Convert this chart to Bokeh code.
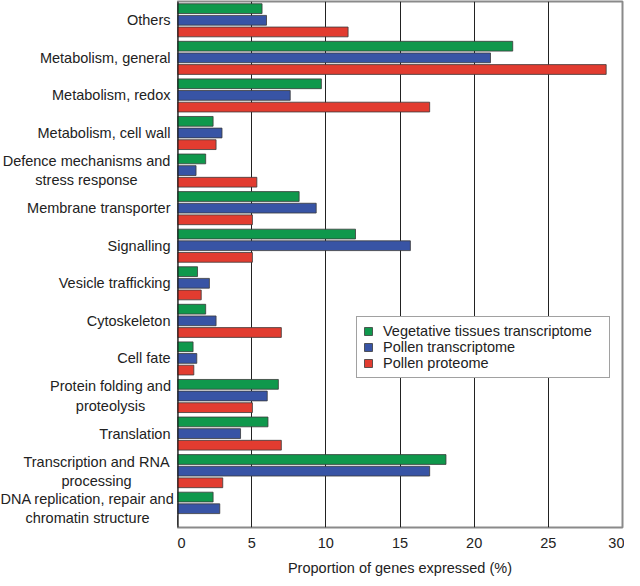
from bokeh.plotting import figure
from bokeh.layouts import row
from bokeh.models import FactorRange, Legend, LegendItem, FixedTicker, ColumnDataSource, Span
from bokeh.core.properties import value
from bokeh.transform import dodge
from bokeh.embed import file_html
from bokeh.resources import INLINE

categories = [
    "Others",
    "Metabolism, general",
    "Metabolism, redox",
    "Metabolism, cell wall",
    "Defence mechanisms and\nstress response",
    "Membrane transporter",
    "Signalling",
    "Vesicle trafficking",
    "Cytoskeleton",
    "Cell fate",
    "Protein folding and\nproteolysis",
    "Translation",
    "Transcription and RNA\nprocessing",
    "DNA replication, repair and\nchromatin structure",
]
vegetative = [5.7, 22.6, 9.7, 2.4, 1.9, 8.2, 12.0, 1.35, 1.9, 1.05, 6.8, 6.1, 18.1, 2.4]
pollen_tx = [6.0, 21.1, 7.6, 3.0, 1.25, 9.35, 15.7, 2.15, 2.6, 1.3, 6.05, 4.25, 17.0, 2.85]
pollen_pr = [11.5, 28.9, 17.0, 2.6, 5.35, 5.05, 5.05, 1.6, 7.0, 1.1, 5.05, 7.0, 3.05, 0.0]
series_names = ["Vegetative tissues transcriptome", "Pollen transcriptome", "Pollen proteome"]
colors = ["#0f984c", "#3854a5", "#e23c30"]
x_ticks = [0, 5, 10, 15, 20, 25, 30]

FONT = "Liberation Sans"
FS = "14.5px"
TXT = "#222222"

LABEL_W = 177
FRAME_W = 445
FRAME_H = 526
TOP = 1
BOTTOM = 570 - FRAME_H - TOP

source = ColumnDataSource(dict(cat=categories, veg=vegetative, ptx=pollen_tx, ppr=pollen_pr))
y_range = FactorRange(factors=list(reversed(categories)), range_padding=0)

# ---------------- main chart ----------------
p = figure(
    width=FRAME_W + 2, height=570,
    y_range=y_range, x_range=(0, 30),
    output_backend="svg", toolbar_location=None,
    y_axis_location=None,
    min_border_left=0, min_border_right=2, min_border_top=TOP, min_border_bottom=BOTTOM,
)
p.frame_width = FRAME_W
p.frame_height = FRAME_H

fields = ["veg", "ptx", "ppr"]
offsets = [0.31, 0.0, -0.31]
renderers = []
for f, off, c in zip(fields, offsets, colors):
    r = p.hbar(y=dodge("cat", off, range=y_range), right=f, left=0, height=0.26,
               source=source, fill_color=c, line_color="#3a3a3a", line_width=0.8)
    renderers.append(r)

p.xgrid.ticker = FixedTicker(ticks=x_ticks)
p.xgrid.grid_line_color = "#222222"
p.xgrid.grid_line_width = 1
p.ygrid.grid_line_color = None
p.outline_line_color = "#8a8a8a"
p.outline_line_width = 2

p.add_layout(Span(location=0, dimension="height", line_color="#111111", line_width=2))

p.xaxis.ticker = FixedTicker(ticks=x_ticks)
p.xaxis.axis_label = "Proportion of genes expressed (%)"
p.xaxis.axis_label_text_font = FONT
p.xaxis.axis_label_text_font_style = "normal"
p.xaxis.axis_label_text_font_size = FS
p.xaxis.axis_label_text_color = TXT
p.xaxis.axis_label_standoff = 9
p.xaxis.major_label_text_font = FONT
p.xaxis.major_label_text_font_size = FS
p.xaxis.major_label_text_color = TXT
p.xaxis.major_tick_line_color = None
p.xaxis.minor_tick_line_color = None
p.xaxis.axis_line_color = None
p.xaxis.major_label_standoff = 4

legend = Legend(
    items=[LegendItem(label=n, renderers=[r]) for n, r in zip(series_names, renderers)],
    location=(179, 149),
    label_text_font=FONT, label_text_font_size=FS, label_text_color=TXT,
    glyph_width=10, glyph_height=10, label_height=16, label_width=220,
    spacing=0, label_standoff=10,
    padding=6, margin=0,
    border_line_color="#444444", border_line_width=1,
    background_fill_alpha=1.0,
)
p.add_layout(legend, "center")

# ---------------- category labels (centred multi-line text) ----------------
centre_x = {
    "Defence mechanisms and\nstress response": 86,
    "Protein folding and\nproteolysis": 110,
    "Transcription and RNA\nprocessing": 96,
    "DNA replication, repair and\nchromatin structure": 87,
}
lab_x = [centre_x.get(c, LABEL_W - 7) for c in categories]
lab_align = ["center" if c in centre_x else "right" for c in categories]
lab_src = ColumnDataSource(dict(cat=categories, x=lab_x, align=lab_align))

lf = figure(
    width=LABEL_W, height=570,
    y_range=y_range, x_range=(0, LABEL_W),
    output_backend="svg", toolbar_location=None,
    x_axis_location=None, y_axis_location=None,
    min_border_left=0, min_border_right=0, min_border_top=TOP, min_border_bottom=BOTTOM,
)
lf.frame_width = LABEL_W
lf.frame_height = FRAME_H
lf.outline_line_color = None
lf.xgrid.visible = False
lf.ygrid.visible = False
lf.text(x="x", y="cat", text="cat", source=lab_src, text_align="align",
        text_baseline="middle", text_font=value(FONT), text_font_size=FS,
        text_color=TXT, text_line_height=1.2)

layout = row(lf, p, spacing=0)
open("out.html", "w").write(file_html(layout, INLINE))
